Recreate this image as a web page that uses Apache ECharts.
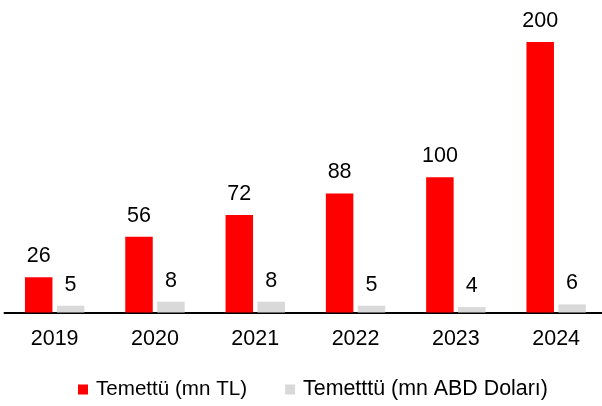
<!DOCTYPE html>
<html>
<head>
<meta charset="utf-8">
<script src="https://cdn.jsdelivr.net/npm/echarts@6/dist/echarts.min.js"></script>
<style>
  html, body { margin: 0; padding: 0; background: #fff; overflow: hidden; }
  #chart { width: 608px; height: 406px; }
</style>
</head>
<body>
<div id="chart"></div>
<script>
// Dividend payouts per year
const years = ['2019', '2020', '2021', '2022', '2023', '2024'];
const dividendTL = [26, 56, 72, 88, 100, 200];
const dividendUSD = [5, 8, 8, 5, 4, 6];
const seriesNames = ['Temettü (mn TL)', 'Temetttü (mn ABD Doları)'];

const FONT = "'Liberation Sans', Arial, sans-serif";

const chart = echarts.init(document.getElementById('chart'), null, { renderer: 'canvas' });

const labelStyle = {
  show: true,
  position: 'top',
  distance: 10,
  fontFamily: FONT,
  fontSize: 21.5,
  color: '#000'
};

chart.setOption({
  animation: false,
  backgroundColor: '#fff',
  grid: { left: 4.5, right: 1.7, top: 42, height: 270.5, containLabel: false },
  xAxis: {
    type: 'category',
    data: years,
    axisLine: { show: true, lineStyle: { color: '#000', width: 2 } },
    axisTick: { show: false },
    axisLabel: { margin: 16, fontFamily: FONT, fontSize: 21.5, color: '#000' }
  },
  yAxis: {
    type: 'value',
    min: 0,
    max: 200,
    show: false,
    splitLine: { show: false }
  },
  legend: {
    left: 73,
    top: 374,
    itemWidth: 10,
    itemHeight: 10,
    itemGap: 38,
    icon: 'rect',
    textStyle: { fontFamily: FONT, fontSize: 20, color: '#000', padding: [0, 0, 0, 3] },
    data: [
      { name: seriesNames[0], textStyle: { fontSize: 20.6 } },
      { name: seriesNames[1], textStyle: { fontSize: 21.4 } }
    ]
  },
  series: [
    {
      name: seriesNames[0],
      type: 'bar',
      data: dividendTL,
      barWidth: 27.5,
      barGap: '16%',
      itemStyle: { color: '#FF0000' },
      label: labelStyle
    },
    {
      name: seriesNames[1],
      type: 'bar',
      data: dividendUSD,
      barWidth: 27.5,
      itemStyle: { color: '#D9D9D9' },
      label: labelStyle
    }
  ]
});
</script>
</body>
</html>
